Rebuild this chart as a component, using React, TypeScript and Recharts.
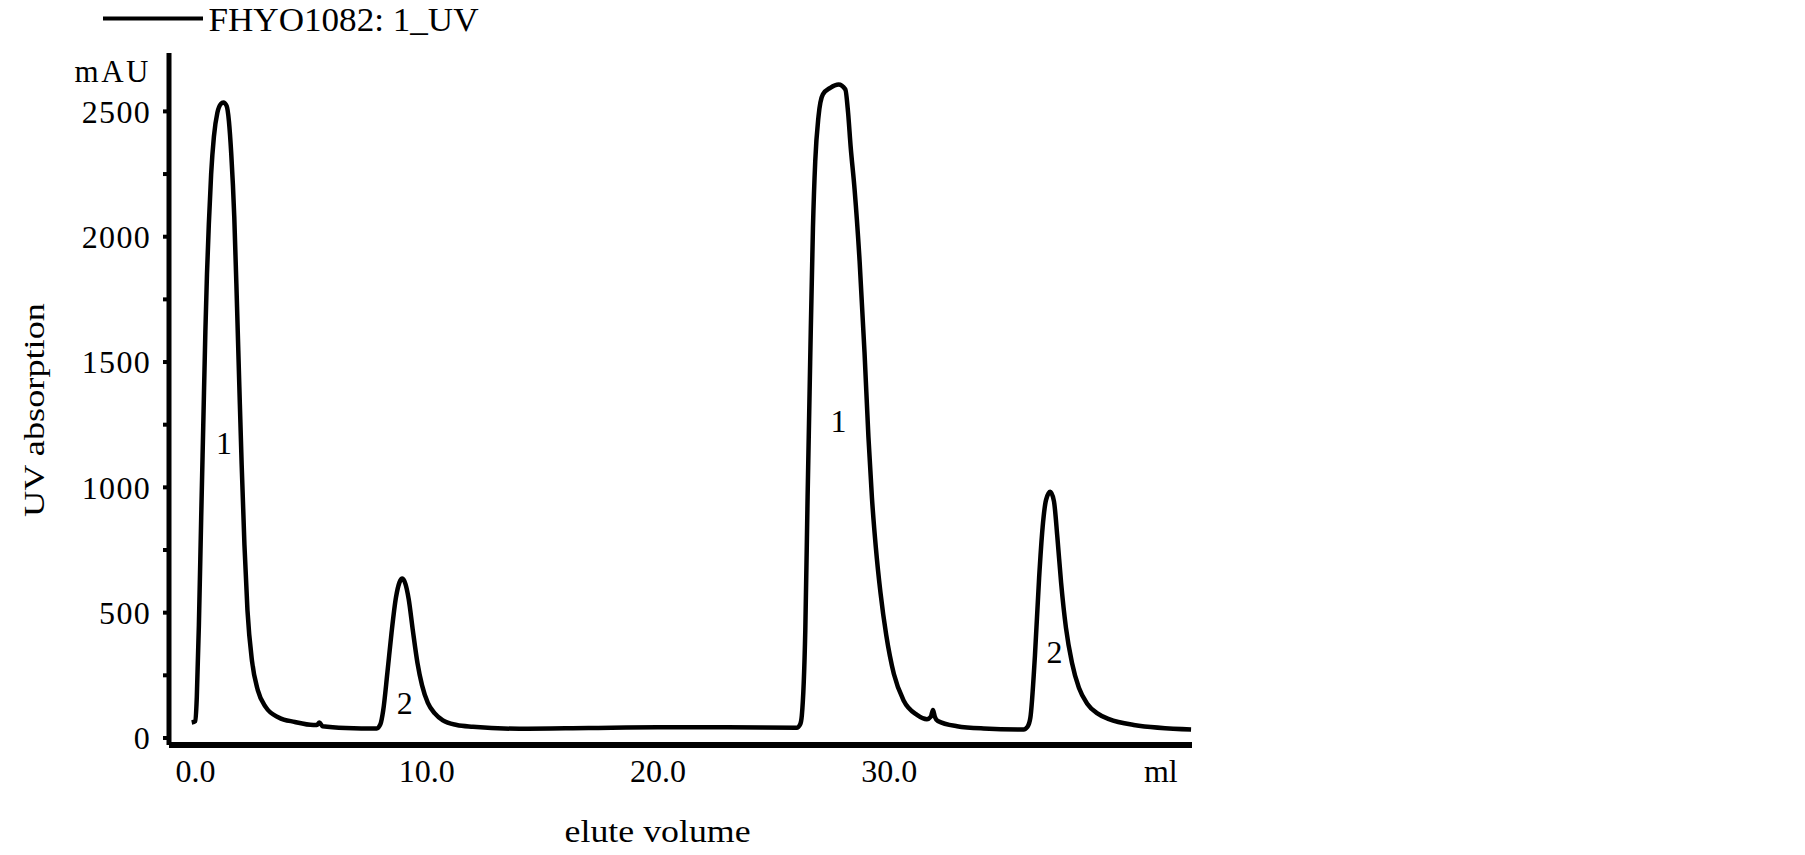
import React from 'react';
import { LineChart, Line, XAxis, YAxis, Legend, ReferenceDot, Label } from 'recharts';

const FONT = '"Liberation Serif", "Times New Roman", "DejaVu Serif", serif';

const seriesName = 'FHYO1082: 1_UV';

const elutionVolume = [
  -0.16, 0.0, 0.06, 0.15, 0.25, 0.34, 0.43, 0.5, 0.58, 0.68, 0.8, 0.95, 1.1, 1.21, 1.35, 1.45, 1.55, 1.68, 1.8, 1.9,
  2.0, 2.12, 2.25, 2.45, 2.7, 3.05, 3.6, 4.3, 5.1, 5.25, 5.36, 5.5, 6.5, 7.84,
  8.0, 8.12, 8.3, 8.48, 8.67, 8.82, 8.95, 9.08, 9.22, 9.4, 9.6, 9.8, 10.05, 10.35, 10.7, 11.3, 12.0, 14.0, 17.0, 20.0, 23.0, 26.0,
  26.15, 26.22, 26.37, 26.47, 26.58, 26.7, 26.8, 26.94, 27.13, 27.45, 27.81, 28.1, 28.22, 28.33, 28.5, 28.72, 28.93,
  29.1, 29.25, 29.42, 29.62, 29.87, 30.2, 30.62, 31.2, 31.63, 31.8, 31.89, 31.97, 32.1, 32.93, 34.08, 35.81,
  35.98, 36.1, 36.3, 36.48, 36.63, 36.78, 36.96, 37.12, 37.27, 37.43, 37.64, 37.9, 38.2, 38.55, 39.0, 39.5, 40.57, 43.05,
];

const uvAbsorbance = [
  62, 68, 162, 450, 880, 1250, 1620, 1850, 2050, 2250, 2400, 2495, 2530, 2536, 2522, 2460, 2330, 2080, 1720, 1400,
  1090, 770, 510, 305, 190, 122, 82, 64, 52, 52, 62, 47, 40, 38,
  55, 110, 260, 420, 560, 620, 636, 615, 555, 430, 300, 210, 140, 98, 70, 52, 45, 37, 40, 43, 43, 41,
  55, 90, 430, 964, 1499, 2033, 2301, 2479, 2568, 2594, 2607, 2588, 2495, 2360, 2190, 1900, 1540,
  1200, 960, 760, 580, 410, 255, 150, 92, 75, 85, 112, 85, 68, 47, 38, 34,
  45, 80, 330, 640, 840, 950, 982, 945, 800, 620, 440, 300, 200, 138, 98, 75, 52, 34,
];

const xTicks = [0, 10, 20, 30];
const xTickLabels = ['0.0', '10.0', '20.0', '30.0'];
const xUnitPos = 41.74;
const xUnit = 'ml';
const xTitle = 'elute volume';

const yTicks = [0, 250, 500, 750, 1000, 1250, 1500, 1750, 2000, 2250, 2500];
const yLabelStep = 500;
const yUnitPos = 2662;
const yUnit = 'mAU';
const yTitle = 'UV absorption';

const peakLabelX = [1.24, 9.05, 27.81, 37.14];
const peakLabelY = [1178, 140, 1267, 345];
const peakLabelText = ['1', '2', '1', '2'];

const xDomain = [-1.142, 43.09];
const yDomain = [-28, 2733];

const data = elutionVolume.map((v, i) => ({ v, a: uvAbsorbance[i] }));

const Y_TICK_SIZE = 6;
const Y_TICK_MARGIN = 12;

const YTick = (props: any) => {
  const { x, y, payload } = props;
  const v = payload.value;
  const isUnit = v === yUnitPos;
  const label = isUnit ? yUnit : v % yLabelStep === 0 ? String(v) : '';
  return (
    <g>
      {!isUnit && (
        <line
          x1={x + Y_TICK_MARGIN}
          x2={x + Y_TICK_MARGIN + Y_TICK_SIZE}
          y1={y}
          y2={y}
          stroke="#000"
          strokeWidth={4}
        />
      )}
      {label && (
        <text
          x={x}
          y={y}
          dy="0.355em"
          textAnchor="end"
          fill="#000"
          fontFamily={FONT}
          fontSize={isUnit ? 31 : 32}
          style={{ letterSpacing: isUnit ? '2.5px' : '1.3px' }}
        >
          {label}
        </text>
      )}
    </g>
  );
};

const XTick = (props: any) => {
  const { x, y, payload } = props;
  const v = payload.value;
  const idx = xTicks.indexOf(v);
  const label = v === xUnitPos ? xUnit : idx >= 0 ? xTickLabels[idx] : '';
  return (
    <text
      x={x}
      y={y}
      dy="0.71em"
      textAnchor="middle"
      fill="#000"
      fontFamily={FONT}
      fontSize={32}
    >
      {label}
    </text>
  );
};

const renderLegend = (props: any) => {
  const name = props.payload && props.payload[0] ? props.payload[0].value : seriesName;
  return (
    <svg width={420} height={40} style={{ display: 'block', overflow: 'visible' }}>
      <line x1={0} x2={100} y1={10.4} y2={10.4} stroke="#000" strokeWidth={4} />
      <text
        x={105.5}
        y={22.7}
        fill="#000"
        fontFamily={FONT}
        fontSize={34}
        textLength={270}
        lengthAdjust="spacingAndGlyphs"
      >
        {name}
      </text>
    </svg>
  );
};

export default function App() {
  return (
    <div style={{ width: 1797, height: 847, background: '#fff' }}>
      <LineChart
        width={1797}
        height={847}
        data={data}
        margin={{ top: 45, right: 613, bottom: 50, left: 8 }}
        style={{ background: '#fff' }}
      >
        <XAxis
          type="number"
          dataKey="v"
          domain={xDomain}
          allowDataOverflow
          ticks={[...xTicks, xUnitPos]}
          interval={0}
          tickLine={false}
          tickSize={6}
          tickMargin={8}
          height={60}
          axisLine={{ stroke: '#000', strokeWidth: 6 }}
          tick={<XTick />}
        >
          <Label
            content={(p: any) => {
              const vb = p.viewBox;
              const cx = vb.x + vb.width / 2 - 22.9;
              const cy = vb.y + 86;
              return (
                <text
                  x={cx}
                  y={cy}
                  textAnchor="middle"
                  dominantBaseline="central"
                  fill="#000"
                  fontFamily={FONT}
                  fontSize={31}
                  textLength={186}
                  lengthAdjust="spacingAndGlyphs"
                >
                  {xTitle}
                </text>
              );
            }}
          />
        </XAxis>
        <YAxis
          type="number"
          domain={yDomain}
          allowDataOverflow
          ticks={[...yTicks, yUnitPos]}
          interval={0}
          width={153}
          tickLine={false}
          tickSize={Y_TICK_SIZE}
          tickMargin={Y_TICK_MARGIN}
          axisLine={{ stroke: '#000', strokeWidth: 5 }}
          tick={<YTick />}
        >
          <Label
            content={(p: any) => {
              const vb = p.viewBox;
              const cx = vb.x + 17;
              const cy = vb.y + vb.height / 2 + 11;
              return (
                <text
                  x={cx}
                  y={cy}
                  transform={`rotate(-90 ${cx} ${cy})`}
                  textAnchor="middle"
                  dominantBaseline="central"
                  fill="#000"
                  fontFamily={FONT}
                  fontSize={30}
                  textLength={214}
                  lengthAdjust="spacingAndGlyphs"
                >
                  {yTitle}
                </text>
              );
            }}
          />
        </YAxis>
        <Legend
          layout="horizontal"
          verticalAlign="middle"
          align="center"
          wrapperStyle={{ position: 'absolute', top: 0, left: 95.4, width: 420, height: 40 }}
          content={renderLegend}
        />
        <Line
          type="monotone"
          dataKey="a"
          name={seriesName}
          stroke="#000"
          strokeWidth={4.5}
          dot={false}
          activeDot={false}
          isAnimationActive={false}
          legendType="line"
        />
        {peakLabelX.map((px, i) => (
          <ReferenceDot
            key={i}
            x={px}
            y={peakLabelY[i]}
            r={1}
            fill="none"
            stroke="none"
            label={{
              value: peakLabelText[i],
              position: 'center',
              fill: '#000',
              fontSize: 32,
              fontFamily: FONT,
            }}
          />
        ))}
      </LineChart>
    </div>
  );
}
